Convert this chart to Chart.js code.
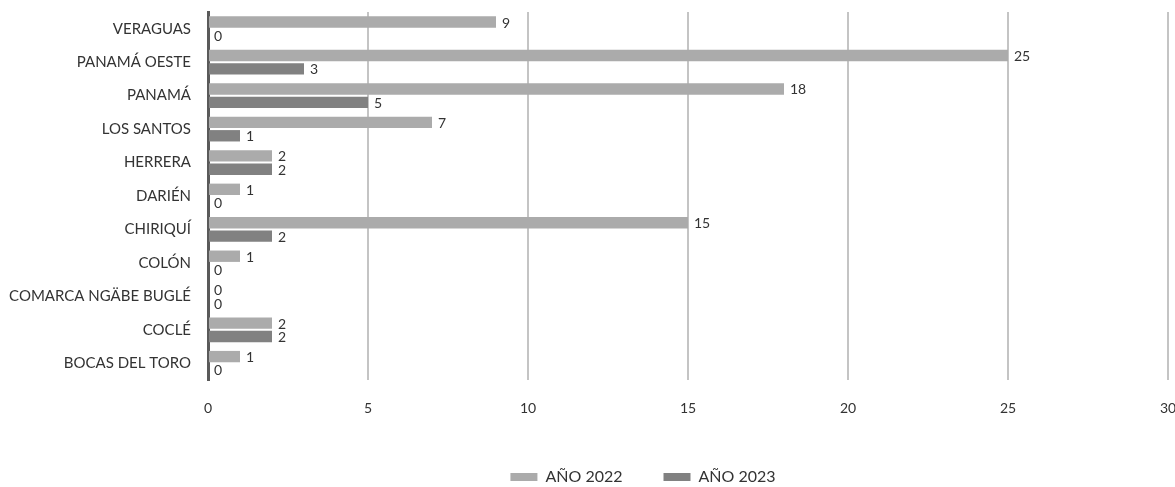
<!DOCTYPE html>
<html>
<head>
<meta charset="utf-8">
<script src="https://cdn.jsdelivr.net/npm/chart.js@4/dist/chart.umd.min.js"></script>
<style>
  html, body { margin: 0; padding: 0; background: #fff; }
  #wrap { width: 1175px; height: 487px; }
</style>
</head>
<body>
<div id="wrap"><canvas id="chart" width="1175" height="487"></canvas></div>
<script>
// datos
const provincias = ['VERAGUAS', 'PANAMÁ OESTE', 'PANAMÁ', 'LOS SANTOS', 'HERRERA', 'DARIÉN',
                    'CHIRIQUÍ', 'COLÓN', 'COMARCA NGÄBE BUGLÉ', 'COCLÉ', 'BOCAS DEL TORO'];
const anio2022 = [9, 25, 18, 7, 2, 1, 15, 1, 0, 2, 1];
const anio2023 = [0, 3, 5, 1, 2, 0, 2, 0, 0, 2, 0];
const xTicks   = [0, 5, 10, 15, 20, 25, 30];

const FONT = 'Lato, "Open Sans", sans-serif';

// etiquetas de valor al final de cada barra
const valueLabels = {
  id: 'valueLabels',
  afterDatasetsDraw(chart) {
    const ctx = chart.ctx;
    ctx.save();
    ctx.font = '14px ' + FONT;
    ctx.fillStyle = '#333';
    ctx.textBaseline = 'middle';
    ctx.textAlign = 'left';
    chart.data.datasets.forEach((ds, i) => {
      chart.getDatasetMeta(i).data.forEach((bar, j) => {
        ctx.fillText(String(ds.data[j]), bar.x + 6, bar.y + 1);
      });
    });
    ctx.restore();
  }
};

// la leyenda del original no está centrada en el lienzo: se desplaza un poco
const legendShift = {
  id: 'legendShift',
  afterLayout(chart) {
    const lg = chart.legend;
    if (!lg) return;
    lg.left += 59; lg.right += 59;
    lg.top += 8;   lg.bottom += 8;
  }
};

new Chart(document.getElementById('chart'), {
  type: 'bar',
  data: {
    labels: provincias,
    datasets: [
      { label: 'AÑO 2022', data: anio2022, backgroundColor: '#ababab' },
      { label: 'AÑO 2023', data: anio2023, backgroundColor: '#818181' }
    ]
  },
  options: {
    indexAxis: 'y',
    responsive: false,
    animation: false,
    categoryPercentage: 0.8,
    barPercentage: 0.85,
    layout: { padding: { top: 12, right: 7, left: 0, bottom: 0 } },
    plugins: {
      tooltip: { enabled: false },
      legend: {
        position: 'bottom',
        labels: {
          font: { family: FONT, size: 16 },
          color: '#333',
          boxWidth: 27,
          boxHeight: 8,
          padding: 41
        }
      }
    },
    scales: {
      x: {
        min: 0, max: 30,
        afterBuildTicks: s => { s.ticks = xTicks.map(v => ({ value: v })); },
        grid: {
          color: c => c.tick && c.tick.value === 0 ? 'rgba(0,0,0,0)' : '#c4c4c4',
          lineWidth: 2,
          drawTicks: false
        },
        border: { display: false },
        ticks: { font: { family: FONT, size: 14 }, color: '#333', padding: 20 },
        afterFit: s => { s.height = 40; s.paddingLeft = 0; s.paddingRight = 0; }
      },
      y: {
        grid: { display: false, drawTicks: false },
        border: { display: true, color: '#5a5a5a', width: 3 },
        ticks: { font: { family: FONT, size: 15 }, color: '#333', padding: 17 },
        afterFit: s => { s.width = 208; s.paddingTop = 0; s.paddingBottom = 0; }
      }
    }
  },
  plugins: [valueLabels, legendShift]
});
</script>
</body>
</html>
